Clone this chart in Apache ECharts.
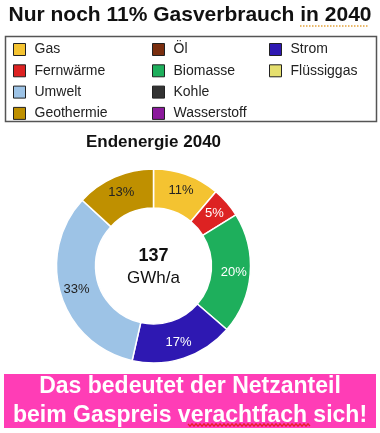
<!DOCTYPE html>
<html>
<head>
<meta charset="utf-8">
<script src="https://cdn.jsdelivr.net/npm/echarts@6/dist/echarts.min.js"></script>
<style>
html,body{margin:0;padding:0;background:#fff;}
#c{width:380px;height:433px;}
</style>
</head>
<body>
<div id="c"></div>
<script>
// ---- data ----
const categories = ['Gas','Fernwärme','Biomasse','Strom','Umwelt','Geothermie','Öl','Flüssiggas','Kohle','Wasserstoff'];
const shares = [11, 5, 20, 17, 33, 13, 0, 0, 0, 0]; // percent of final energy 2040
const totalGWh = 137;
const legendCol1 = ['Gas','Fernwärme','Umwelt','Geothermie'];
const legendCol2 = ['Öl','Biomasse','Kohle','Wasserstoff'];
const legendCol3 = ['Strom','Flüssiggas'];
const mainTitle = 'Nur noch 11% Gasverbrauch in 2040';
const chartTitle = 'Endenergie 2040';
const bannerLines = ['Das bedeutet der Netzanteil', 'beim Gaspreis verachtfach sich!'];

// ---- styles ----
const colors = {
  'Gas':'#F4C331','Fernwärme':'#DD2222','Biomasse':'#1EAF5C','Strom':'#2E18B2',
  'Umwelt':'#9DC3E6','Geothermie':'#BF9000','Öl':'#7A2E0F','Flüssiggas':'#E5DF6E',
  'Kohle':'#333333','Wasserstoff':'#8B1A9C'
};
const darkLabel = {'Gas':1,'Umwelt':1,'Geothermie':1};

const chart = echarts.init(document.getElementById('c'), null, {renderer:'canvas'});

const pieData = categories.map((n,i)=>({
  name:n, value:shares[i],
  itemStyle:{color:colors[n], borderColor:'#fff', borderWidth: shares[i] ? 1.5 : 0},
  label:{color: darkLabel[n] ? '#222' : '#fff'}
}));

function legendCfg(left, data){
  return {
    orient:'vertical', left:left, top:37.5, itemWidth:12, itemHeight:12, itemGap:7.3,
    icon:'rect', selectedMode:false, data:data,
    itemStyle:{borderColor:'#222', borderWidth:1},
    formatter:'{t|{name}}',
    textStyle:{fontFamily:'Liberation Sans, Arial', fontSize:14, color:'#222',
      rich:{t:{fontFamily:'Liberation Sans, Arial', fontSize:14, color:'#222', padding:[0,0,0,4]}}}
  };
}

// wavy underline points
const wave = [];
for (let x = 188, k = 0; x <= 310; x += 2, k++) wave.push([x, 425 + (k % 2 ? 1.2 : -1.2)]);

chart.setOption({
  backgroundColor:'#fff',
  animation:false,
  legend:[legendCfg(8, legendCol1), legendCfg(147, legendCol2), legendCfg(264, legendCol3)],
  series:[{
    type:'pie',
    center:[153.5, 266],
    radius:[58, 97],
    startAngle:90,
    clockwise:true,
    avoidLabelOverlap:false,
    silent:true,
    label:{
      show:true, position:'inside', fontFamily:'Liberation Sans, Arial', fontSize:13,
      formatter: p => p.value ? p.value + '%' : ''
    },
    labelLine:{show:false},
    data:pieData
  }],
  graphic:[
    {type:'text', x:190, y:15.5, style:{text:mainTitle, fontFamily:'Liberation Sans, Arial', fontWeight:'bold', fontSize:21, fill:'#111', textAlign:'center', textVerticalAlign:'middle'}},
    {type:'line', shape:{x1:300, y1:26, x2:369, y2:26}, style:{stroke:'#E3A23B', lineWidth:1.5, lineDash:[1.5,1.5]}},
    {type:'rect', shape:{x:5.5, y:36.5, width:371, height:85}, style:{fill:'none', stroke:'#555', lineWidth:1.5}},
    {type:'text', x:153.5, y:142, style:{text:chartTitle, fontFamily:'Liberation Sans, Arial', fontWeight:'bold', fontSize:17, fill:'#111', textAlign:'center', textVerticalAlign:'middle'}},
    {type:'text', x:153.5, y:256, style:{text:String(totalGWh), fontFamily:'Liberation Sans, Arial', fontWeight:'bold', fontSize:18, fill:'#111', textAlign:'center', textVerticalAlign:'middle'}},
    {type:'text', x:153.5, y:278, style:{text:'GWh/a', fontFamily:'Liberation Sans, Arial', fontSize:17, fill:'#111', textAlign:'center', textVerticalAlign:'middle'}},
    {type:'rect', shape:{x:4, y:374, width:372, height:54}, style:{fill:'#FF3DB6'}},
    {type:'text', x:190, y:387, style:{text:bannerLines[0], fontFamily:'Liberation Sans, Arial', fontWeight:'bold', fontSize:23, fill:'#fff', textAlign:'center', textVerticalAlign:'middle'}},
    {type:'text', x:190, y:415.5, style:{text:bannerLines[1], fontFamily:'Liberation Sans, Arial', fontWeight:'bold', fontSize:23, fill:'#fff', textAlign:'center', textVerticalAlign:'middle'}},
    {type:'polyline', shape:{points:wave}, style:{stroke:'#E8202A', lineWidth:1.3, fill:'none'}}
  ]
});
</script>
</body>
</html>
